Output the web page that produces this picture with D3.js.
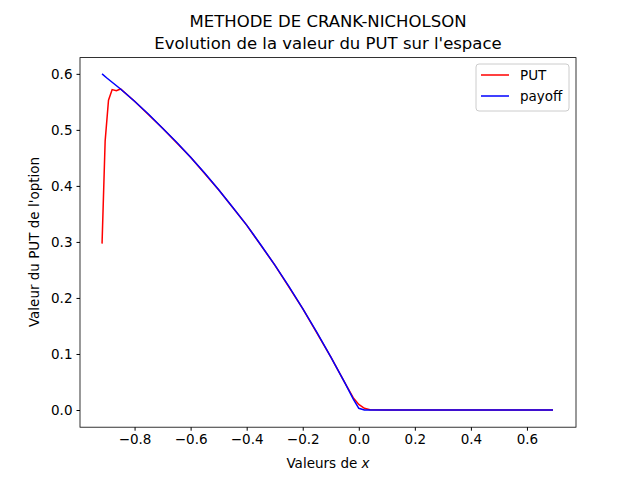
<!DOCTYPE html>
<html><head><meta charset="utf-8">
<script src="https://cdn.jsdelivr.net/npm/d3@7"></script>
<style>body{margin:0;background:#fff}text{font-family:"DejaVu Sans",sans-serif}</style>
</head><body>
<svg id="c" width="640" height="480"></svg>
<script>
var payX = [-0.916,-0.9,-0.85,-0.8,-0.75,-0.7,-0.65,-0.6,-0.55,-0.5,-0.45,-0.4,-0.35,-0.3,-0.25,-0.2,-0.15,-0.1,-0.05,-0.02,0,0.02,0.1,0.3,0.5,0.693];
var payY = [0.600,0.593,0.573,0.551,0.528,0.503,0.478,0.451,0.423,0.393,0.362,0.330,0.295,0.259,0.221,0.181,0.139,0.095,0.049,0.020,0.003,0,0,0,0,0];
var putX = [-0.916,-0.905,-0.893,-0.88,-0.865,-0.85,-0.8,-0.7,-0.6,-0.5,-0.4,-0.3,-0.2,-0.1,-0.05,-0.02,0,0.02,0.04,0.1,0.3,0.5,0.693];
var putY = [0.297,0.480,0.553,0.572,0.570,0.573,0.551,0.503,0.451,0.393,0.330,0.259,0.181,0.095,0.049,0.022,0.010,0.003,0.0005,0,0,0,0];
var xTicks = [-0.8,-0.6,-0.4,-0.2,0.0,0.2,0.4,0.6];
var yTicks = [0.0,0.1,0.2,0.3,0.4,0.5,0.6];

var svg = d3.select('#c');
var L = 80, R = 576, T = 57.6, B = 427.2;
var x = d3.scaleLinear().domain([-0.9947, 0.775]).range([L, R]);
var y = d3.scaleLinear().domain([-0.0307, 0.629]).range([B, T]);

var fmt = function(d) { return d3.format('.1f')(d).replace('-', '\u2212'); };
var ax = svg.append('g').attr('transform', 'translate(0,' + B + ')')
	.call(d3.axisBottom(x).tickValues(xTicks).tickFormat(fmt).tickSizeOuter(0).tickSize(3.5).tickPadding(4));
var ay = svg.append('g').attr('transform', 'translate(' + L + ',0)')
	.call(d3.axisLeft(y).tickValues(yTicks).tickFormat(fmt).tickSizeOuter(0).tickSize(3.5).tickPadding(4));
[ax, ay].forEach(function(g) {
	g.select('.domain').remove();
	g.selectAll('text').attr('font-size', 13.5).attr('fill', '#000');
	g.selectAll('line').attr('stroke', '#000');
});
svg.append('rect').attr('x', L).attr('y', T).attr('width', R - L).attr('height', B - T)
	.attr('fill', 'none').attr('stroke', '#000').attr('stroke-width', 0.8);

var line = d3.line().x(function(d) { return x(d[0]); }).y(function(d) { return y(d[1]); });
svg.append('path').datum(d3.zip(putX, putY)).attr('d', line)
	.attr('fill', 'none').attr('stroke', 'red').attr('stroke-width', 1.5);
svg.append('path').datum(d3.zip(payX, payY)).attr('d', line)
	.attr('fill', 'none').attr('stroke', 'blue').attr('stroke-width', 1.5);

svg.append('text').attr('x', 328).attr('y', 27).attr('text-anchor', 'middle').attr('font-size', 16.5).text('METHODE DE CRANK-NICHOLSON');
svg.append('text').attr('x', 328).attr('y', 49).attr('text-anchor', 'middle').attr('font-size', 16.5).text("Evolution de la valeur du PUT sur l'espace");
var xl = svg.append('text').attr('x', 328).attr('y', 468).attr('text-anchor', 'middle').attr('font-size', 13.5).text('Valeurs de ');
xl.append('tspan').attr('font-style', 'italic').text('x');
svg.append('text').attr('transform', 'translate(39,242) rotate(-90)').attr('text-anchor', 'middle').attr('font-size', 13.5).text("Valeur du PUT de l'option");

var lg = svg.append('g').attr('transform', 'translate(476,64)');
lg.append('rect').attr('width', 93).attr('height', 47).attr('rx', 3).attr('fill', '#fff').attr('stroke', '#ccc');
[['PUT', 'red'], ['payoff', 'blue']].forEach(function(e, i) {
	lg.append('line').attr('x1', 5).attr('x2', 33).attr('y1', 11 + i * 21).attr('y2', 11 + i * 21).attr('stroke', e[1]).attr('stroke-width', 1.5);
	lg.append('text').attr('x', 44).attr('y', 16 + i * 21).attr('font-size', 13.5).text(e[0]);
});
</script>
</body></html>
